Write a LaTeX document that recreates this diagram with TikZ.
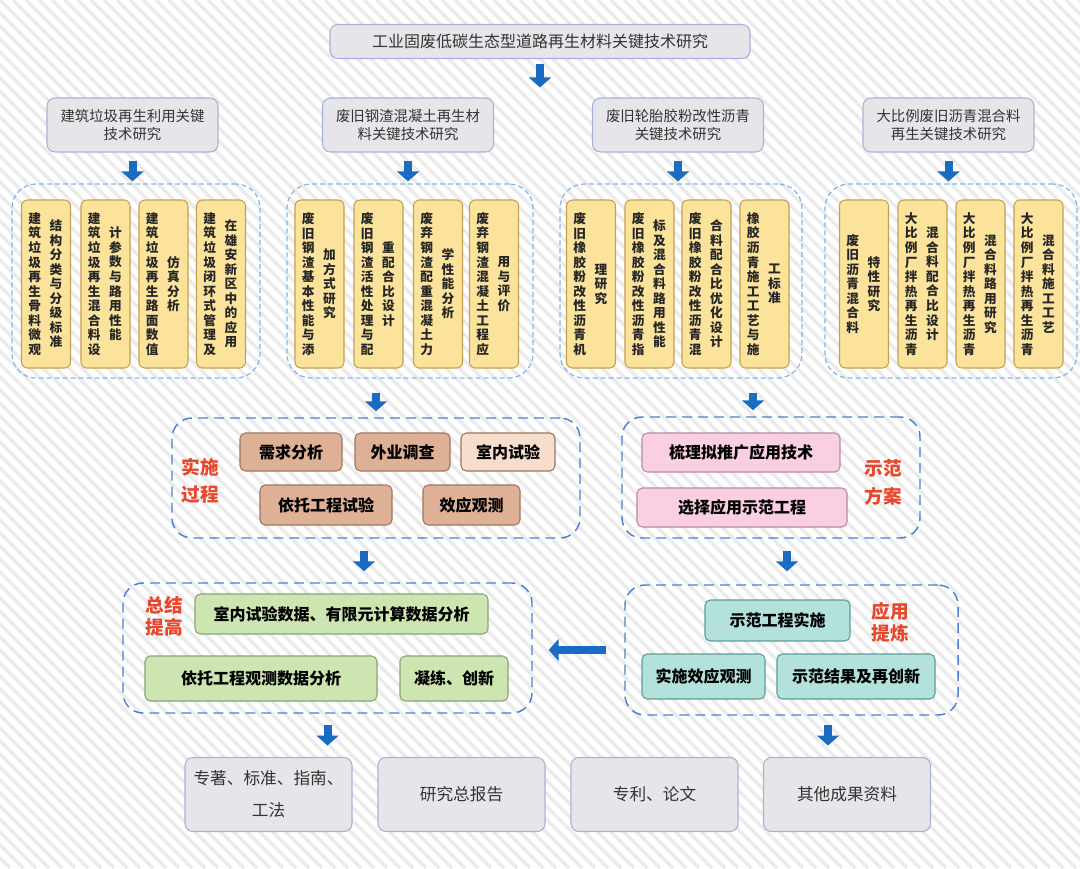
\documentclass[tikz,border=0pt]{standalone}
\usepackage{fontspec}
\setmainfont{Noto Sans CJK SC}
\usetikzlibrary{arrows.meta}
\XeTeXlinebreaklocale "zh"
\XeTeXlinebreakskip=0pt plus 1pt
\definecolor{grayfill}{HTML}{E6E6EA}
\definecolor{grayline}{HTML}{A6B2DA}
\definecolor{graytext}{HTML}{333333}
\definecolor{yfill}{HTML}{FCE39C}
\definecolor{yline}{HTML}{C4A04E}
\definecolor{bfill}{HTML}{DEB196}
\definecolor{bfilllight}{HTML}{F6DDCC}
\definecolor{bline}{HTML}{9C7660}
\definecolor{pfill}{HTML}{F9CFE1}
\definecolor{pline}{HTML}{B58AA6}
\definecolor{gfill}{HTML}{CDE6B1}
\definecolor{gline}{HTML}{86A474}
\definecolor{tfill}{HTML}{B3E1DC}
\definecolor{tline}{HTML}{5E9C96}
\definecolor{arrowblue}{HTML}{1A6CC2}
\definecolor{dashlight}{HTML}{86B5E4}
\definecolor{dashdark}{HTML}{4C80D4}
\definecolor{lblred}{HTML}{E8472C}
\definecolor{stripegray}{HTML}{EBEBEB}
\tikzset{graybox/.style={draw=grayline,fill=grayfill,rounded corners=6pt,line width=0.8pt,align=center,text=graytext}}
\tikzset{ybox/.style={draw=yline,fill=yfill,rounded corners=4.5pt,line width=0.8pt,minimum width=36.75pt,minimum height=126pt}}
\tikzset{ycol/.style={inner sep=0pt,text width=11pt,align=center,text=black!85,font=\bfseries\fontsize{9.5}{10.9}\selectfont}}
\tikzset{ygroup/.style={draw=dashlight,line width=0.9pt,dash pattern=on 3.75pt off 2.25pt,rounded corners=18pt}}
\tikzset{mgroup/.style={draw=dashdark,line width=1.1pt,dash pattern=on 7.5pt off 4.5pt,rounded corners=15pt}}
\tikzset{stepbox/.style={draw,rounded corners=4pt,line width=0.8pt,font=\bfseries\fontsize{12}{14}\selectfont}}
\tikzset{lbl/.style={text=lblred,align=center,inner sep=0pt}}
\tikzset{bigarrow/.style={draw=arrowblue,line width=6pt,-{Triangle[width=16.5pt,length=7.5pt]}}}
\tikzset{stripe/.style={draw=stripegray,line width=2.5pt}}

\begin{document}
\begin{tikzpicture}[x=0.75pt,y=-0.75pt]
    \useasboundingbox (0,0) rectangle (1080,868);
    \fill[white] (0,0) rectangle (1080,868);
    \begin{scope}
      \clip (0,0) rectangle (1080,868);
      \foreach \i in {-884,-871,...,1080}
        \draw[stripe] (\i,0) -- ++(868,868);
    \end{scope}

    % top title and the four topics
    \node[graybox,minimum width=315pt,minimum height=25.5pt,font=\fontsize{12}{14}\selectfont] (title) at (540,41.5) {工业固废低碳生态型道路再生材料关键技术研究};
    \foreach \cx/\txt [count=\i] in {132.5/{建筑垃圾再生利用关键\\技术研究},408/{废旧钢渣混凝土再生材\\料关键技术研究},678/{废旧轮胎胶粉改性沥青\\关键技术研究},948.5/{大比例废旧沥青混合料\\再生关键技术研究}}{
      \node[graybox,minimum width=128.25pt,minimum height=40.5pt,font=\fontsize{10.8}{13.5}\selectfont] (b\i) at (\cx,125) {\txt};
    }

    % dashed groups of yellow columns
    \node[ygroup,minimum width=186pt,minimum height=145.5pt] (g1) at (136,281) {};
    \node[ygroup,minimum width=184.5pt,minimum height=145.5pt] (g2) at (410,281) {};
    \node[ygroup,minimum width=181.5pt,minimum height=145.5pt] (g3) at (681,281) {};
    \node[ygroup,minimum width=189pt,minimum height=145.5pt] (g4) at (951,281) {};

    \foreach \cx/\ta/\tb [count=\i] in {
        46/建筑垃圾再生骨料微观/结构分类与分级标准,
        105.5/建筑垃圾再生混合料设/计参数与路用性能,
        163.5/建筑垃圾再生路面数值/仿真分析,
        221/建筑垃圾闭环式管理及/在雄安新区中的应用,
        319.5/废旧钢渣基本性能与添/加方式研究,
        378.5/废旧钢渣活性处理与配/重配合比设计,
        438/废弃钢渣配重混凝土力/学性能分析,
        494/废弃钢渣混凝土工程应/用与评价,
        591/废旧橡胶粉改性沥青机/理研究,
        649.5/废旧橡胶粉改性沥青指/标及混合料路用性能,
        706.5/废旧橡胶粉改性沥青混/合料配合比优化设计,
        764.5/橡胶沥青施工工艺与施/工标准,
        864/废旧沥青混合料/特性研究,
        922.5/大比例厂拌热再生沥青/混合料配合比设计,
        980.5/大比例厂拌热再生沥青/混合料路用研究,
        1038.5/大比例厂拌热再生沥青/混合料施工工艺}{
      \node[ybox] (y\i) at (\cx,284) {};
      \node[ycol] (y\i a) at ([xshift=-8.5pt]y\i.center) {\ta};
      \node[ycol] (y\i b) at ([xshift=7.5pt]y\i.center) {\tb};
    }

    % implementation process
    \node[mgroup,minimum width=306pt,minimum height=90pt] (impl) at (376,478) {};
    \node[stepbox,draw=bline,fill=bfill,minimum width=76.5pt,minimum height=28.5pt] (s1) at (291,452) {需求分析};
    \node[stepbox,draw=bline,fill=bfill,minimum width=71.25pt,minimum height=28.5pt] (s2) at (402.5,452) {外业调查};
    \node[stepbox,draw=bline,fill=bfilllight,minimum width=70.5pt,minimum height=28.5pt] (s3) at (508,452) {室内试验};
    \node[stepbox,draw=bline,fill=bfill,minimum width=99pt,minimum height=30pt] (s4) at (326,505) {依托工程试验};
    \node[stepbox,draw=bline,fill=bfill,minimum width=72.75pt,minimum height=30pt] (s5) at (471.5,505) {效应观测};
    \node[lbl,font=\bfseries\fontsize{14}{20}\selectfont] (l1) at (200,481) {实施\\过程};

    % demonstration plan
    \node[mgroup,minimum width=223.5pt,minimum height=90.75pt] (demo) at (771,477.5) {};
    \node[stepbox,draw=pline,fill=pfill,minimum width=148.5pt,minimum height=29.25pt] (d1) at (741,452.5) {梳理拟推广应用技术};
    \node[stepbox,draw=pline,fill=pfill,minimum width=157.5pt,minimum height=29.25pt] (d2) at (742,507.5) {选择应用示范工程};
    \node[lbl,font=\bfseries\fontsize{14}{21}\selectfont] (l2) at (883,482) {示范\\方案};

    % summary
    \node[mgroup,minimum width=306.75pt,minimum height=97.5pt] (summ) at (327.5,648) {};
    \node[stepbox,draw=gline,fill=gfill,minimum width=219.75pt,minimum height=30pt] (m1) at (341.5,614) {室内试验数据、有限元计算数据分析};
    \node[stepbox,draw=gline,fill=gfill,minimum width=174pt,minimum height=33.75pt] (m2) at (261,678.5) {依托工程观测数据分析};
    \node[stepbox,draw=gline,fill=gfill,minimum width=81pt,minimum height=33.75pt] (m3) at (454,678.5) {凝练、创新};
    \node[lbl,font=\bfseries\fontsize{14}{16.5}\selectfont] (l3) at (164,616) {总结\\提高};

    % application
    \node[mgroup,minimum width=249.75pt,minimum height=97.5pt] (appl) at (791.5,650) {};
    \node[stepbox,draw=tline,fill=tfill,minimum width=108.75pt,minimum height=30.75pt] (p1) at (777.5,620.5) {示范工程实施};
    \node[stepbox,draw=tline,fill=tfill,minimum width=92.25pt,minimum height=33.75pt] (p2) at (703.5,676.5) {实施效应观测};
    \node[stepbox,draw=tline,fill=tfill,minimum width=118.5pt,minimum height=33.75pt] (p3) at (856,676.5) {示范结果及再创新};
    \node[lbl,font=\bfseries\fontsize{14}{16.5}\selectfont] (l4) at (890,622) {应用\\提炼};

    % outputs
    \foreach \cx/\txt [count=\i] in {268.5/{专著、标准、指南、\\工法},461.5/研究总报告,654.5/{专利、论文},847/其他成果资料}{
      \node[graybox,minimum width=125.25pt,minimum height=55.5pt,font=\fontsize{12.5}{24}\selectfont] (o\i) at (\cx,794.5) {\txt};
    }

    % arrows
    \coordinate (ka) at (753,0);
    \coordinate (kb) at (364,0);
    \coordinate (kc) at (787,0);
    \coordinate (kd) at (828,0);
    \draw[bigarrow,shorten <=3.75pt,shorten >=7.5pt] (title.south) -- (title.south |- b1.north);
    \foreach \i in {1,...,4}
      \draw[bigarrow,shorten <=6pt,shorten >=1.5pt] (b\i.south) -- (b\i.south |- g1.north);
    \draw[bigarrow,shorten <=10.5pt,shorten >=4.5pt] (g2.south -| impl.north) -- (impl.north);
    \draw[bigarrow,shorten <=10.5pt,shorten >=4.5pt] (g3.south -| ka) -- (demo.north -| ka);
    \draw[bigarrow,shorten <=9pt,shorten >=8.25pt] (impl.south -| kb) -- (summ.north -| kb);
    \draw[bigarrow,shorten <=9pt,shorten >=9.75pt] (demo.south -| kc) -- (appl.north -| kc);
    \draw[bigarrow,shorten <=13.5pt,shorten >=12pt] (appl.west) -- (appl.west -| summ.east);
    \draw[bigarrow,shorten <=8.25pt,shorten >=8.6pt] (summ.south) -- (summ.south |- o1.north);
    \draw[bigarrow,shorten <=6.75pt,shorten >=8.6pt] (appl.south -| kd) -- (o4.north -| kd);
\end{tikzpicture}
\end{document}
